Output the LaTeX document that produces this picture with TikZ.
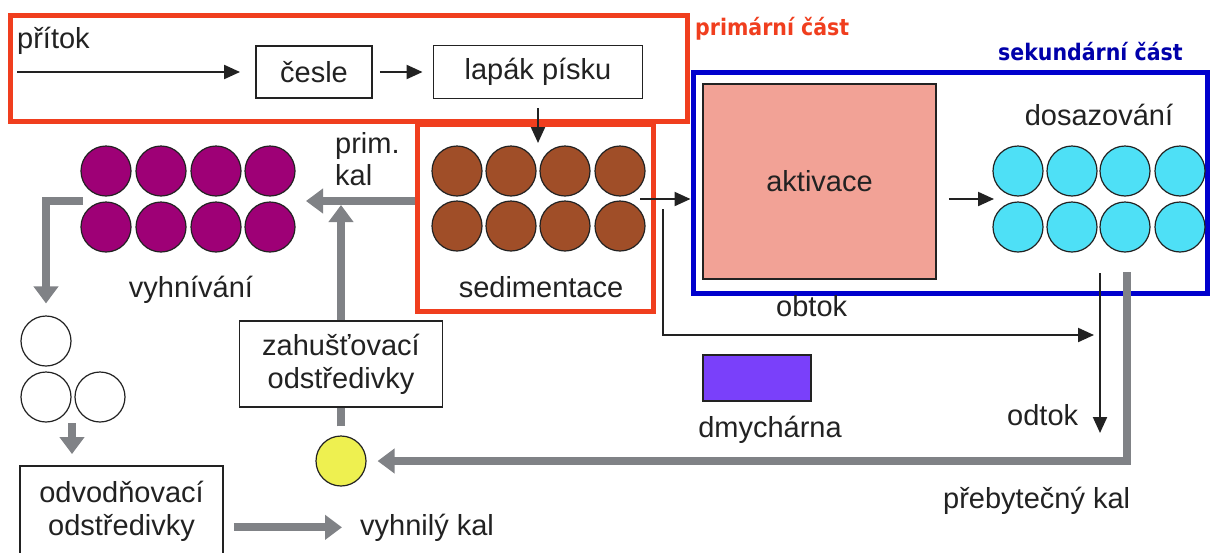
\documentclass[tikz,border=0pt]{standalone}
\usepackage{fontspec}
\setmainfont{Liberation Sans}
\newfontfamily\partfont{DejaVu Sans Condensed}
\usetikzlibrary{arrows.meta}
\definecolor{ink}{RGB}{34,34,34}
\definecolor{redor}{RGB}{240,62,30}
\definecolor{bluet}{RGB}{0,0,205}
\definecolor{bluetxt}{RGB}{0,0,170}
\definecolor{purp}{RGB}{158,0,118}
\definecolor{brownt}{RGB}{160,78,40}
\definecolor{cyant}{RGB}{78,224,246}
\definecolor{salmon}{RGB}{242,162,150}
\definecolor{yellowt}{RGB}{238,240,80}
\definecolor{violett}{RGB}{122,64,250}
\definecolor{sgray}{RGB}{128,130,134}
\begin{document}
\begin{tikzpicture}[x=1pt,y=-1pt,
  lbl/.style={font=\fontsize{29}{33}\selectfont, text=ink, inner sep=0pt},
  box/.style={draw=ink, line width=1.9pt, fill=white, inner sep=0pt, align=center, lbl},
  frame/.style={draw, line width=5pt, inner sep=0pt},
  tank/.style={circle, draw=ink, line width=1.2pt, minimum size=50pt, inner sep=0pt},
  flow/.style={draw=ink, line width=2.1pt, -{Triangle[length=16pt,width=14pt]}},
  sludge/.style={draw=sgray, line width=8pt, line join=miter, -{Triangle[length=17pt,width=24pt]}},
  parttitle/.style={font=\partfont\bfseries\fontsize{22.8}{26}\selectfont, inner sep=0pt}]
\clip (0,0) rectangle (1214,552);
\fill[white] (0,0) rectangle (1214,552);

% frames
\node[frame, draw=redor, minimum width=677pt, minimum height=106pt] (primframe) at (348.5,68) {};
\node[frame, draw=redor, minimum width=236pt, minimum height=187pt] (sed) at (535,217.5) {};
\node[frame, draw=bluet, minimum width=514pt, minimum height=221pt] (blue) at (950,182.5) {};
\node[parttitle, text=redor, anchor=base west] (primtitle) at (695,35) {primární část};
\node[parttitle, text=bluetxt, anchor=base west] (sektitle) at (998,60) {sekundární část};

% boxes
\node[box, minimum width=116pt, minimum height=52pt] (cesle) at (314,72) {česle};
\node[box, minimum width=209pt, minimum height=53pt] (lapak) at (538,72) {lapák písku};
\node[box, fill=salmon, minimum width=233pt, minimum height=195pt] (aktivace) at (819.5,181.5) {aktivace};
\node[box, fill=violett, line width=1.5pt, minimum width=108pt, minimum height=46pt] (dmych) at (757,378) {};
\node[box, minimum width=203pt, minimum height=86pt] (zahus) at (341,364) {zahušťovací\\odstředivky};
\node[box, minimum width=203pt, minimum height=90pt] (odv) at (121.5,511) {odvodňovací\\odstředivky};

% tanks
\foreach \i/\x in {1/106,2/161,3/216,4/270}{
  \node[tank, fill=purp] (pa\i) at (\x,171) {};
  \node[tank, fill=purp] (pb\i) at (\x,227) {};
}
\foreach \i/\x in {1/457,2/511,3/565,4/620}{
  \node[tank, fill=brownt] (sa\i) at (\x,171) {};
  \node[tank, fill=brownt] (sb\i) at (\x,226) {};
}
\foreach \i/\x in {1/1018,2/1072,3/1125,4/1180}{
  \node[tank, fill=cyant] (ca\i) at (\x,171) {};
  \node[tank, fill=cyant] (cb\i) at (\x,227) {};
}
\node[tank, fill=white] (w1) at (46,341) {};
\node[tank, fill=white] (w2) at (46,397) {};
\node[tank, fill=white] (w3) at (100,397) {};
\node[tank, fill=yellowt] (yellow) at (341,461) {};

% labels
\node[lbl, anchor=base west] (pritok) at (17,48) {přítok};
\node[lbl, anchor=base] (sedlbl) at (541,297) {sedimentace};
\node[lbl, anchor=base] (vyhlbl) at (191,297) {vyhnívání};
\node[lbl, anchor=base west] (prim1) at (335,153) {prim.};
\node[lbl, anchor=base west] (prim2) at (335,185) {kal};
\node[lbl, anchor=base] (doslbl) at (1099,125) {dosazování};
\node[lbl, anchor=base west] (obtoklbl) at (776,316) {obtok};
\node[lbl, anchor=base west] (odtoklbl) at (1007,425) {odtok};
\node[lbl, anchor=base] (dmychlbl) at (770,437) {dmychárna};
\node[lbl, anchor=base west] (preblbl) at (943,508) {přebytečný kal};
\node[lbl, anchor=base west] (vyhnily) at (360,535) {vyhnilý kal};

% coordinates
\coordinate (inflow) at (17,72);
\coordinate (sedin) at (538,143);
\coordinate (sedout) at (640,199);
\coordinate (bypass) at (663,209);
\coordinate (bypassend) at (1094,335);
\coordinate (odtoktop) at (1100,273);
\coordinate (odtokend) at (1100,433);
\coordinate (cyin) at (994,199);
\coordinate (excess) at (1127,272);
\coordinate (primjoin) at (341,205);
\coordinate (primtip) at (306,201);
\coordinate (vyhout) at (83,201);
\coordinate (wout) at (72,423);

% black flows
\draw[flow, shorten >=15pt] (inflow) -- (cesle.west);
\draw[flow, shorten <=7pt, shorten >=10pt] (cesle) -- (lapak);
\draw[flow, shorten <=9pt] (lapak) -- (sedin);
\draw[flow] (sedout) -- (sedout -| blue.west);
\draw[flow] (bypass) |- (bypassend);
\draw[flow] (odtoktop) -- (odtokend);
\draw[flow, shorten <=12pt] (aktivace.east |- cyin) -- (cyin);

% sludge flows
\draw[sludge, shorten >=11pt] (excess) |- (yellow);
\draw[sludge, -, shorten <=9pt] (yellow) -- (zahus);
\draw[sludge] (zahus) -- (primjoin);
\draw[sludge] (sed.west |- primtip) -- (primtip);
\draw[sludge, shorten >=12pt] (vyhout) -| (w1);
\draw[sludge, shorten >=11pt] (wout) -- (wout |- odv.north);
\draw[sludge, shorten <=10pt, shorten >=18pt] (odv.east |- vyhnily.west) -- (vyhnily.west);
\end{tikzpicture}
\end{document}
